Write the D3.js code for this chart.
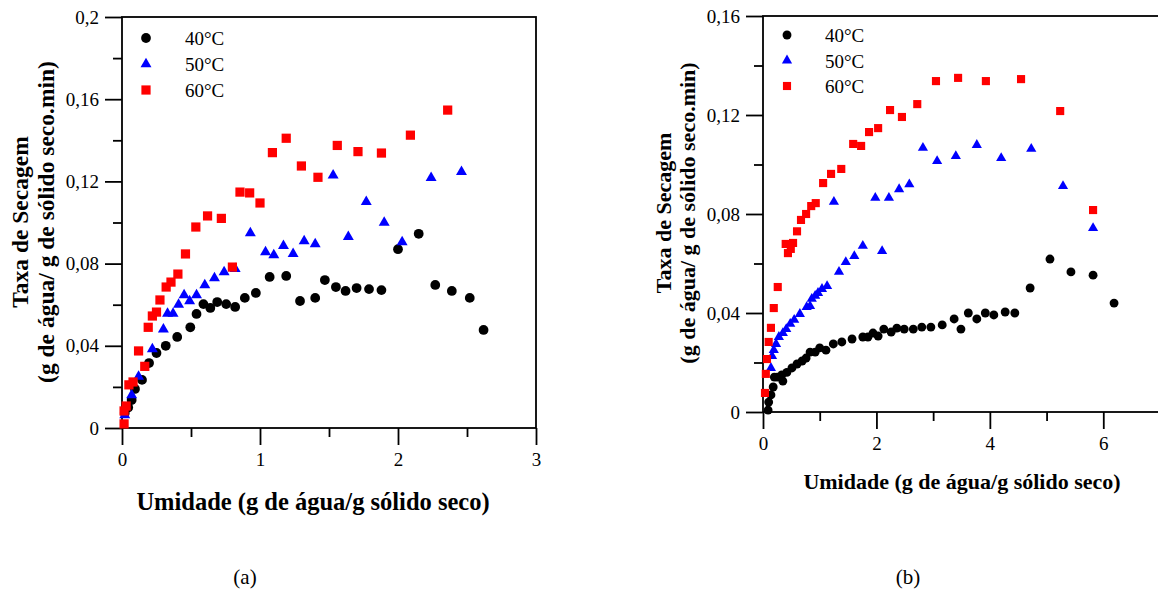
<!DOCTYPE html>
<html>

<head>
    <meta charset="utf-8">
    <title>Taxa de Secagem</title>
    <script type="text/javascript" src="https://cdn.jsdelivr.net/npm/d3@7/dist/d3.min.js"></script>
    <style>
        body { margin: 0; background: #fff; }
        svg text { font-family: "Liberation Serif", "Times New Roman", Times, "DejaVu Serif", serif; }
    </style>
</head>

<body>
    <script type="text/javascript">
    /* データ (a) : umidade x taxa */
    var a40x = [0.02, 0.045, 0.07, 0.094, 0.145, 0.196, 0.25, 0.317, 0.40, 0.495, 0.54, 0.59, 0.64, 0.69, 0.755, 0.82, 0.89, 0.97, 1.07, 1.19, 1.29, 1.40, 1.47, 1.55, 1.62, 1.70, 1.79, 1.88, 2.0, 2.15, 2.27, 2.39, 2.52, 2.62];
    var a40y = [0.0073, 0.010, 0.0136, 0.019, 0.0234, 0.0316, 0.0365, 0.040, 0.0443, 0.049, 0.0555, 0.0603, 0.0584, 0.0613, 0.0603, 0.0589, 0.0633, 0.0657, 0.0735, 0.074, 0.0618, 0.0633, 0.072, 0.0686, 0.0667, 0.0681, 0.0676, 0.0671, 0.087, 0.0945, 0.0696, 0.0667, 0.0633, 0.0477];
    var a50x = [0.02, 0.07, 0.12, 0.22, 0.30, 0.33, 0.37, 0.41, 0.45, 0.49, 0.54, 0.60, 0.67, 0.74, 0.82, 0.93, 1.04, 1.10, 1.17, 1.24, 1.32, 1.40, 1.53, 1.64, 1.77, 1.90, 2.03, 2.24, 2.46];
    var a50y = [0.0063, 0.016, 0.025, 0.0384, 0.048, 0.0557, 0.0557, 0.060, 0.0647, 0.0618, 0.0647, 0.0696, 0.0730, 0.0759, 0.0774, 0.0949, 0.0856, 0.0842, 0.0886, 0.0847, 0.0910, 0.0895, 0.123, 0.093, 0.110, 0.100, 0.0905, 0.1217, 0.1246];
    var a60x = [0.015, 0.015, 0.03, 0.05, 0.08, 0.12, 0.165, 0.19, 0.22, 0.25, 0.275, 0.32, 0.355, 0.405, 0.46, 0.535, 0.62, 0.72, 0.80, 0.855, 0.925, 1.0, 1.09, 1.19, 1.30, 1.42, 1.56, 1.71, 1.88, 2.09, 2.36];
    var a60y = [0.002, 0.0083, 0.0107, 0.021, 0.0224, 0.0375, 0.030, 0.049, 0.0545, 0.0564, 0.0623, 0.0686, 0.0710, 0.0749, 0.0847, 0.0978, 0.1032, 0.102, 0.0783, 0.1148, 0.1144, 0.1095, 0.134, 0.141, 0.1275, 0.122, 0.1375, 0.1345, 0.1338, 0.1425, 0.1547];

    /* データ (b) */
    var b40x = [0.09, 0.1, 0.14, 0.18, 0.2, 0.25, 0.35, 0.33, 0.42, 0.51, 0.6, 0.69, 0.76, 0.83, 0.92, 1.0, 1.11, 1.24, 1.39, 1.57, 1.76, 1.85, 1.94, 2.03, 2.13, 2.26, 2.36, 2.49, 2.65, 2.8, 2.96, 3.16, 3.37, 3.49, 3.62, 3.77, 3.92, 4.07, 4.27, 4.44, 4.71, 5.06, 5.43, 5.82, 6.19];
    var b40y = [0.0008, 0.004, 0.0069, 0.0101, 0.0141, 0.0141, 0.0125, 0.015, 0.016, 0.0178, 0.0194, 0.0206, 0.0218, 0.0242, 0.0242, 0.0259, 0.025, 0.0275, 0.0283, 0.0295, 0.0303, 0.0303, 0.0319, 0.0307, 0.0335, 0.0323, 0.0339, 0.0335, 0.0335, 0.0343, 0.0343, 0.0352, 0.0376, 0.0335, 0.040, 0.0376, 0.040, 0.0392, 0.0404, 0.040, 0.0501, 0.0618, 0.0566, 0.0553, 0.044];
    var b50x = [0.14, 0.16, 0.19, 0.23, 0.28, 0.35, 0.41, 0.48, 0.55, 0.65, 0.77, 0.83, 0.86, 0.92, 0.97, 1.04, 1.13, 1.34, 1.46, 1.61, 1.76, 2.10, 1.25, 1.98, 2.22, 2.40, 2.58, 2.82, 3.07, 3.40, 3.77, 4.20, 4.73, 5.29, 5.82];
    var b50y = [0.0178, 0.0226, 0.025, 0.0275, 0.0303, 0.0319, 0.0335, 0.0356, 0.0372, 0.0396, 0.0424, 0.0428, 0.0457, 0.0469, 0.0481, 0.0497, 0.0509, 0.0566, 0.0606, 0.063, 0.0671, 0.065, 0.0849, 0.0865, 0.0865, 0.090, 0.092, 0.1067, 0.1014, 0.1034, 0.1079, 0.1026, 0.1063, 0.0913, 0.0743];
    var b60x = [0.035, 0.05, 0.07, 0.1, 0.14, 0.19, 0.26, 0.4, 0.44, 0.49, 0.53, 0.6, 0.67, 0.76, 0.85, 0.93, 1.06, 1.2, 1.38, 1.59, 1.73, 1.87, 2.03, 2.24, 2.45, 2.72, 3.05, 3.44, 3.93, 4.55, 5.24, 5.82];
    var b60y = [0.0077, 0.0154, 0.0214, 0.0283, 0.034, 0.042, 0.0505, 0.0679, 0.0642, 0.0659, 0.0683, 0.073, 0.0776, 0.080, 0.0832, 0.0844, 0.0925, 0.0962, 0.0982, 0.1083, 0.1075, 0.1131, 0.1147, 0.122, 0.1192, 0.1244, 0.1337, 0.135, 0.1337, 0.1345, 0.1216, 0.0816];

    /* 凡例・目盛り */
    var seriesNames = ['40°C', '50°C', '60°C'];
    var seriesColors = ['#000000', '#0000ff', '#ff0000'];
    var aXMajor = [0, 1, 2, 3];
    var aXMinor = [0.5, 1.5, 2.5];
    var aYMajor = [0, 0.04, 0.08, 0.12, 0.16, 0.2];
    var aYMinor = [0.02, 0.06, 0.10, 0.14, 0.18];
    var bXMajor = [0, 2, 4, 6];
    var bXMinor = [1, 3, 5, 7];
    var bYMajor = [0, 0.04, 0.08, 0.12, 0.16];
    var bYMinor = [0.02, 0.06, 0.10, 0.14];

    var svgWidth = 1158;
    var svgHeight = 592;
    var serif = '"Liberation Serif", "Times New Roman", Times, "DejaVu Serif", serif';

    var svg = d3.select('body').append('svg')
        .attr('width', svgWidth)
        .attr('height', svgHeight)
        .style('font-family', serif);

    var shapes = [d3.symbolCircle, d3.symbolTriangle, d3.symbolSquare];

    function comma(d) {
        return d === 0 ? '0' : String(d).replace('.', ',');
    }

    function zip(xs, ys) {
        return xs.map(function(x, i) { return [x, ys[i]]; });
    }

    /* パネル描画 */
    function drawPanel(p) {
        var g = svg.append('g');
        var x = p.x, y = p.y;

        // 小目盛り
        g.append('g')
            .attr('transform', 'translate(0,' + y.range()[0] + ')')
            .call(d3.axisBottom(x).tickValues(p.xMinor).tickSize(9).tickFormat(''));
        g.append('g')
            .attr('transform', 'translate(' + x.range()[0] + ',0)')
            .call(d3.axisLeft(y).tickValues(p.yMinor).tickSize(9).tickFormat(''));

        // 大目盛り
        g.append('g')
            .attr('transform', 'translate(0,' + y.range()[0] + ')')
            .call(d3.axisBottom(x).tickValues(p.xMajor).tickSize(17).tickPadding(8).tickFormat(comma));
        g.append('g')
            .attr('transform', 'translate(' + x.range()[0] + ',0)')
            .call(d3.axisLeft(y).tickValues(p.yMajor).tickSize(17).tickPadding(6).tickFormat(comma));

        g.selectAll('.domain').remove();
        g.selectAll('g').attr('font-family', serif);
        g.selectAll('.tick line').attr('stroke', '#000').attr('stroke-width', 1.8);
        g.selectAll('.tick text')
            .attr('font-family', serif)
            .attr('font-size', '19px')
            .attr('fill', '#000');

        // 枠
        g.append('rect')
            .attr('x', x.range()[0])
            .attr('y', y.range()[1])
            .attr('width', x.range()[1] - x.range()[0])
            .attr('height', y.range()[0] - y.range()[1])
            .attr('fill', 'none')
            .attr('stroke', '#000')
            .attr('stroke-width', 1.8);

        // 点
        p.series.forEach(function(s, i) {
            g.append('g').selectAll('path')
                .data(s)
                .enter()
                .append('path')
                .attr('transform', function(d) {
                    return 'translate(' + x(d[0]) + ',' + y(d[1]) + ')';
                })
                .attr('d', d3.symbol().type(shapes[i]).size(p.sizes[i]))
                .attr('fill', seriesColors[i]);
        });

        // 凡例
        seriesNames.forEach(function(name, i) {
            var ly = p.legY + i * p.legStep;
            g.append('path')
                .attr('transform', 'translate(' + p.legX + ',' + ly + ')')
                .attr('d', d3.symbol().type(shapes[i]).size(p.sizes[i]))
                .attr('fill', seriesColors[i]);
            g.append('text')
                .attr('x', p.legX + p.legGap)
                .attr('y', ly + 7)
                .attr('font-size', '19px')
                .text(name);
        });

        // 軸ラベル
        g.append('text')
            .attr('x', p.xTitle[0])
            .attr('y', p.xTitle[1])
            .attr('text-anchor', 'middle')
            .attr('font-weight', 'bold')
            .attr('font-size', p.xTitle[2] + 'px')
            .text('Umidade (g de água/g sólido seco)');

        var yt = g.append('text')
            .attr('transform', 'translate(' + p.yTitle[0] + ',' + p.yTitle[1] + ') rotate(-90)')
            .attr('text-anchor', 'middle')
            .attr('font-weight', 'bold')
            .attr('font-size', p.yTitle[2] + 'px');
        yt.append('tspan').attr('x', 0).attr('dy', 0).text('Taxa de Secagem');
        yt.append('tspan').attr('x', 0).attr('dy', p.yTitle[3]).text('(g de água/ g de sólido seco.min)');

        // (a), (b)
        g.append('text')
            .attr('x', p.cap[0])
            .attr('y', p.cap[1])
            .attr('text-anchor', 'middle')
            .attr('font-size', '21px')
            .text(p.capText);
    }

    drawPanel({
        x: d3.scaleLinear().domain([0, 3]).range([122, 536]),
        y: d3.scaleLinear().domain([0, 0.2]).range([428, 17]),
        xMajor: aXMajor, xMinor: aXMinor, yMajor: aYMajor, yMinor: aYMinor,
        series: [zip(a40x, a40y), zip(a50x, a50y), zip(a60x, a60y)],
        sizes: [75, 52, 85],
        legX: 146, legY: 38, legStep: 26, legGap: 39,
        xTitle: [313, 510, 24.5],
        yTitle: [28, 222, 23.5, 26],
        cap: [245, 584], capText: '(a)'
    });

    drawPanel({
        x: d3.scaleLinear().domain([0, 7]).range([763, 1160]),
        y: d3.scaleLinear().domain([0, 0.16]).range([412, 16]),
        xMajor: bXMajor, xMinor: bXMinor, yMajor: bYMajor, yMinor: bYMinor,
        series: [zip(b40x, b40y), zip(b50x, b50y), zip(b60x, b60y)],
        sizes: [62, 45, 66],
        legX: 787, legY: 35, legStep: 25.5, legGap: 38,
        xTitle: [962, 489, 22],
        yTitle: [671, 213, 22, 24],
        cap: [908, 584], capText: '(b)'
    });
    </script>
</body>

</html>
